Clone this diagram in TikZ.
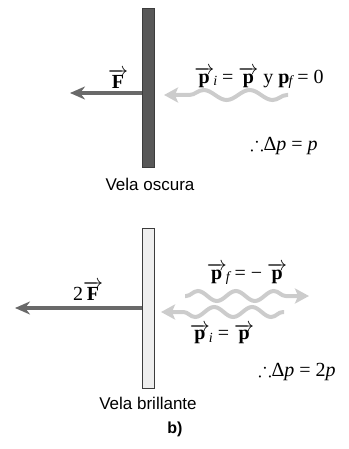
\RequirePackage{fix-cm}
\documentclass[tikz,border=0pt]{standalone}
\usepackage{amssymb}
\usepackage{fontspec}
\setsansfont{Liberation Sans}
\newfontfamily\tms[Ligatures=TeX]{Liberation Serif}
\usetikzlibrary{arrows.meta,decorations.pathmorphing}
\definecolor{saildark}{RGB}{88,88,88}
\definecolor{saillight}{RGB}{238,238,238}
\definecolor{sailedge}{RGB}{60,60,60}
\definecolor{forcecol}{RGB}{105,105,105}
\definecolor{wavecol}{RGB}{204,204,204}
\newcommand{\vb}[1]{\ensuremath{\overrightarrow{\hbox{\tms\bfseries #1}}}}
\newcommand{\lowi}[1]{\kern-1pt\raisebox{-0.28ex}{\fontsize{14}{14}\selectfont\itshape #1}}
\tikzset{
  sailbox/.style={draw=sailedge, line width=0.9pt, minimum width=12pt, inner sep=0pt},
  forcearrow/.style={draw=forcecol, line width=4pt, -{Stealth[length=15pt,width=13pt]}},
  wavearrow/.style={draw=wavecol, line width=4pt, -{Stealth[length=14pt,width=15pt,inset=3pt]},
    decorate, decoration={snake, segment length=#1, amplitude=5pt, pre length=1pt, post length=13pt}},
  wavearrow/.default=40pt,
  lbl/.style={inner sep=0pt, font=\tms\fontsize{20}{23}\selectfont},
  sailcaption/.style={inner sep=0pt, font=\sffamily\fontsize{17}{20}\selectfont}
}
\begin{document}
\begin{tikzpicture}[x=1pt,y=-1pt]
\useasboundingbox (0,0) rectangle (348,449);
% top: dark sail
\node[sailbox, fill=saildark, minimum height=159pt] (sailA) at (148,87.5) {};
\coordinate (fA) at (70,93);
\draw[forcearrow] (sailA.west |- fA) -- (fA);
\node[lbl] (FA) at (118,79) {\vb{F}};
\coordinate (wAs) at (288,95);
\coordinate (wAe) at (164,95);
\draw[wavearrow=46pt] (wAs) -- (wAe);
\node[lbl] (pA) at (259,78) {\vb{p}\lowi{i} = \vb{p} y \textbf{p}\lowi{f} = 0};
\node[lbl] (dA) at (284,146) {$\therefore$Δ\textit{p} = \textit{p}};
\node[sailcaption] (vA) at (150,184) {Vela oscura};
% bottom: bright sail
\node[sailbox, fill=saillight, minimum height=160pt] (sailB) at (148,308) {};
\coordinate (fB) at (15,308);
\draw[forcearrow] (sailB.west |- fB) -- (fB);
\node[lbl] (FB) at (88,291) {2\vb{F}};
\coordinate (wBs) at (185,296);
\coordinate (wBe) at (309,296);
\draw[wavearrow=38pt] (wBs) -- (wBe);
\coordinate (wCs) at (284,312);
\coordinate (wCe) at (161,312);
\draw[wavearrow=38pt] (wCs) -- (wCe);
\node[lbl] (pB) at (247,274) {\vb{p}\lowi{f} = − \vb{p}};
\node[lbl] (pC) at (222,334) {\vb{p}\lowi{i} = \vb{p}};
\node[lbl] (dB) at (297,372) {$\therefore$Δ\textit{p} = 2\textit{p}};
\node[sailcaption] (vB) at (148,403) {Vela brillante};
\node[sailcaption, font=\sffamily\bfseries\fontsize{16}{19}\selectfont] (b) at (175,429) {b)};
\end{tikzpicture}
\end{document}
